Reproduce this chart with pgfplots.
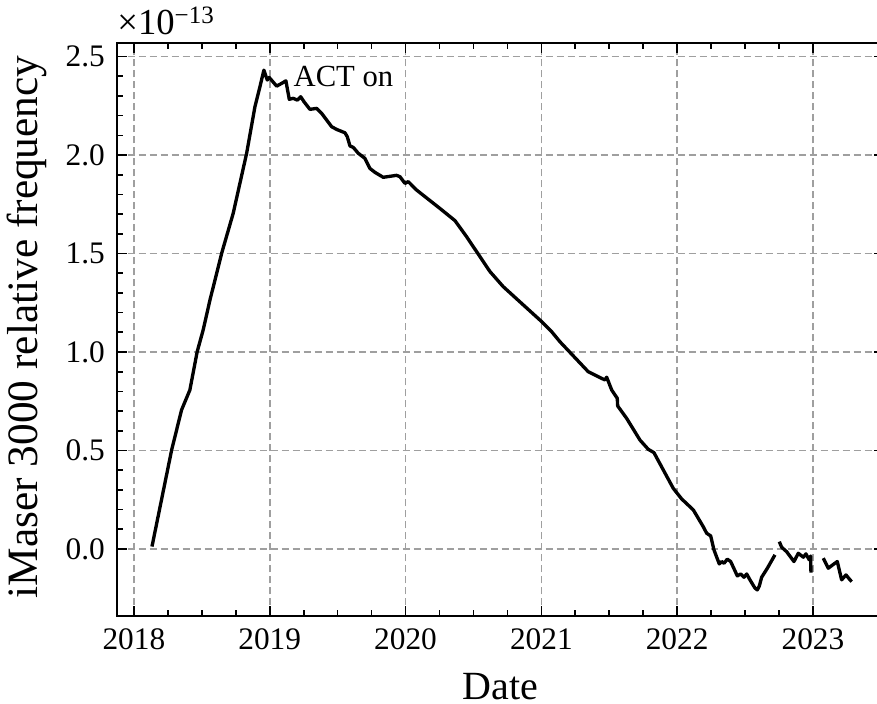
\documentclass[border=0pt]{standalone}
\usepackage{fontspec}
\setmainfont{Liberation Serif}
\usepackage{pgfplots}
\pgfplotsset{compat=1.18}
\begin{document}
\begin{tikzpicture}
\begin{axis}[
  scale only axis, width=230.2pt, height=172.05pt,
  xmin=2017.873, xmax=2023.523, ymin=-0.343, ymax=2.569,
  clip=false,
  xtick={2018,2019,2020,2021,2022,2023}, minor x tick num=3,
  ytick={0,0.5,1,1.5,2,2.5}, minor y tick num=4,
  tick align=inside, xtick pos=both, ytick pos=both,
  xticklabel pos=bottom, yticklabel pos=left,
  major tick length=3pt, minor tick length=1.8pt,
  every tick/.style={black, line width=0.5pt},
  grid=major,
  major grid style={gray!75, line width=0.5pt, dash pattern=on 2.2pt off 1.1pt},
  axis line style={line width=0.6pt},
  scaled y ticks=false,
  /pgf/number format/assume math mode=true,
  xticklabel style={/pgf/number format/1000 sep={}},
  yticklabel style={/pgf/number format/fixed, /pgf/number format/fixed zerofill, /pgf/number format/precision=1},
  tick label style={font=\fontsize{9.4}{10.5}\selectfont},
  xlabel={Date}, ylabel={iMaser 3000 relative frequency},
  xlabel style={font=\fontsize{12}{14}\selectfont, at={(axis description cs:0.5,-0.1229)}, anchor=center},
  ylabel style={font=\fontsize{13}{15}\selectfont, at={(axis description cs:-0.1169,0.505)}, anchor=center},
]
\addplot[black, line width=1pt, line join=round] coordinates {
(2018.133,0.012) (2018.278,0.503) (2018.351,0.706) (2018.412,0.807) (2018.466,1.002)
(2018.510,1.112) (2018.560,1.264) (2018.646,1.501) (2018.731,1.704) (2018.830,2.009)
(2018.891,2.245) (2018.928,2.347) (2018.957,2.431) (2018.982,2.381) (2018.996,2.394)
(2019.051,2.350) (2019.088,2.364) (2019.119,2.377) (2019.144,2.283) (2019.173,2.288)
(2019.203,2.279) (2019.228,2.296) (2019.252,2.271) (2019.296,2.232) (2019.345,2.237)
(2019.382,2.212) (2019.456,2.144) (2019.493,2.130) (2019.554,2.113) (2019.571,2.093)
(2019.591,2.046) (2019.615,2.039) (2019.652,2.009) (2019.701,1.983) (2019.738,1.932)
(2019.775,1.912) (2019.836,1.887) (2019.934,1.897) (2019.959,1.890) (2019.996,1.856)
(2020.020,1.865) (2020.082,1.822) (2020.253,1.729) (2020.364,1.667) (2020.450,1.585)
(2020.548,1.484) (2020.622,1.408) (2020.719,1.332) (2020.867,1.239) (2020.990,1.162)
(2021.076,1.103) (2021.137,1.052) (2021.345,0.900) (2021.468,0.858) (2021.481,0.872)
(2021.518,0.807) (2021.559,0.765) (2021.562,0.726) (2021.628,0.663) (2021.726,0.553)
(2021.787,0.506) (2021.829,0.489) (2021.898,0.401) (2021.971,0.308) (2022.033,0.254)
(2022.119,0.198) (2022.192,0.113) (2022.217,0.080) (2022.247,0.066) (2022.271,-0.005)
(2022.310,-0.076) (2022.328,-0.064) (2022.345,-0.073) (2022.369,-0.052) (2022.394,-0.064)
(2022.443,-0.137) (2022.468,-0.127) (2022.492,-0.144) (2022.512,-0.127) (2022.536,-0.157)
(2022.573,-0.199) (2022.590,-0.208) (2022.605,-0.188) (2022.622,-0.144) (2022.664,-0.098)
(2022.720,-0.030)
};
\addplot[black, line width=1pt, line join=round] coordinates {
(2022.752,0.037) (2022.769,0.009) (2022.806,-0.014) (2022.860,-0.064) (2022.892,-0.022)
(2022.929,-0.042) (2022.948,-0.025) (2022.973,-0.056) (2022.983,-0.036) (2022.985,-0.120)
};
\addplot[black, line width=1pt, line join=round] coordinates {
(2023.076,-0.047) (2023.113,-0.098) (2023.145,-0.081) (2023.179,-0.064) (2023.211,-0.157)
(2023.243,-0.132) (2023.273,-0.157) (2023.285,-0.166)
};
\node[anchor=base west, inner sep=0pt, font=\fontsize{9.2}{10}\selectfont] at (axis cs:2019.171,2.347) {ACT on};
\node[anchor=base west, inner sep=0pt, yshift=2.4pt] at (rel axis cs:0,1) {\fontsize{11}{12}\selectfont ×10\raisebox{3.3pt}{\fontsize{7.5}{9}\selectfont −13}};
\end{axis}
\pgfresetboundingbox
\path[use as bounding box] ([xshift=-35.0pt,yshift=-26.25pt]current axis.south west) rectangle ([xshift=-2.1pt,yshift=12.9pt]current axis.north east);
\end{tikzpicture}
\end{document}
